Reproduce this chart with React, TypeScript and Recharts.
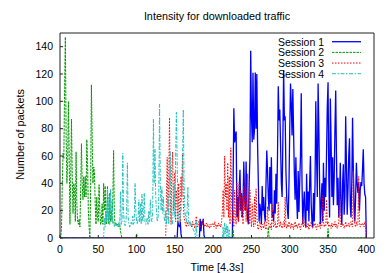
import React from 'react';
import { LineChart, Line, XAxis, YAxis } from 'recharts';

const xTicks = [0, 50, 100, 150, 200, 250, 300, 350, 400];
const yTicks = [0, 20, 40, 60, 80, 100, 120, 140];
const seriesNames = ['Session 1', 'Session 2', 'Session 3', 'Session 4'];

// Session 1 (blue): small bumps, then main activity from t=224
const session1EarlyStart = 152;
const session1Early = [
  0, 0, 12, 10, 8, 12, 3, 0, 0, 0,
  0, 0, 0, 0, 0, 0, 0, 0, 0, 0,
  0, 0, 0, 0, 0, 0, 0, 0, 0, 0,
  0, 14, 5, 12, 10, 14, 2, 0, 0,
];
const session1LateStart = 224;
const session1Late = [
  0, 0, 40, 95, 70, 75, 78, 15, 30, 12,
  35, 50, 20, 33, 15, 25, 56, 30, 20, 56,
  25, 14, 10, 40, 60, 137, 90, 70, 121, 72,
  80, 121, 80, 120, 68, 40, 12, 25, 19, 10,
  38, 20, 30, 17, 12, 40, 64, 49, 30, 20,
  52, 25, 59, 15, 20, 12, 35, 18, 47, 25,
  60, 111, 86, 94, 68, 40, 30, 72, 123, 86,
  89, 49, 30, 20, 14, 40, 80, 113, 98, 75,
  109, 77, 47, 28, 59, 30, 14, 49, 19, 41,
  60, 106, 40, 10, 25, 34, 14, 8, 47, 20,
  34, 12, 40, 60, 25, 12, 8, 33, 12, 40,
  100, 59, 30, 113, 80, 38, 10, 25, 40, 12,
  55, 20, 44, 30, 60, 96, 114, 44, 15, 102,
  70, 30, 59, 24, 44, 80, 108, 59, 24, 44,
  15, 30, 55, 20, 10, 40, 54, 17, 30, 89,
  54, 17, 35, 60, 73, 24, 15, 40, 88, 50,
  24, 12, 30, 55, 40, 33, 41, 20, 35, 41,
  38, 50, 65, 40, 32, 30, 0,
];

// Session 2 (green): active from t=0 to t=81
const session2Start = 0;
const session2Values = [
  0, 0, 8, 40, 62, 58, 110, 147, 75, 40,
  55, 100, 60, 10, 45, 87, 45, 18, 40, 36,
  12, 63, 25, 12, 10, 14, 8, 35, 69, 40,
  28, 45, 30, 45, 30, 72, 55, 20, 8, 0,
  35, 112, 75, 40, 52, 48, 25, 10, 30, 15,
  12, 39, 20, 10, 12, 25, 10, 40, 20, 38,
  12, 10, 38, 15, 10, 33, 12, 20, 12, 30,
  64, 15, 10, 11, 9, 10, 9, 8, 10, 5,
  2, 0,
];
const session2TailTimes = [99, 100, 101, 225, 226, 227, 271, 272, 273, 349, 350, 351, 400];
const session2TailValues = [0, 3, 0, 0, 6, 0, 0, 8, 0, 0, 7, 0, 0];

// Session 3 (red): active from t=137
const session3Start = 137;
const session3Values = [
  0, 0, 30, 59, 20, 45, 88, 30, 10, 50,
  63, 20, 40, 48, 12, 35, 25, 10, 40, 20,
  12, 45, 30, 62, 25, 15, 12, 10, 8, 12,
  10, 9, 11, 12, 10, 8, 12, 9, 10, 7,
  12, 16, 10, 8, 12, 10, 8, 9, 12, 10,
  13, 8, 10, 9, 11, 8, 10, 9, 7, 10,
  8, 9, 11, 10, 8, 12, 9, 7, 10, 8,
  11, 9, 10, 8, 12, 20, 35, 15, 60, 30,
  40, 20, 55, 15, 45, 10, 66, 30, 12, 20,
  8, 35, 15, 10, 40, 28, 12, 41, 20, 35,
  15, 30, 10, 38, 20, 45, 12, 30, 47, 20,
  10, 35, 15, 8, 25, 12, 8, 30, 10, 36,
  17, 8, 6, 10, 12, 8, 6, 10, 9, 7,
  12, 8, 6, 10, 23, 12, 9, 7, 10, 6,
  25, 12, 8, 10, 12, 7, 9, 8, 26, 10,
  8, 12, 9, 7, 10, 12, 8, 30, 9, 7,
  10, 8, 12, 9, 7, 11, 8, 10, 6, 9,
  12, 8, 10, 7, 9, 11, 8, 6, 10, 9,
  15, 8, 10, 12, 7, 9, 8, 11, 6, 10,
  9, 12, 8, 7, 10, 9, 11, 8, 6, 10,
  9, 8, 12, 7, 10, 9, 31, 12, 8, 10,
  9, 28, 10, 12, 8, 10, 9, 7, 11, 8,
  10, 9, 12, 8, 10, 7, 9, 12, 39, 10,
  8, 11, 9, 10, 7, 9, 12, 8, 10, 9,
  11, 8, 10, 12, 9, 8, 49, 15, 10, 8,
  12, 9, 10, 45, 12, 8, 10, 9, 11, 10,
  8, 12, 10, 0,
];

// Session 4 (cyan): active from t=57
const session4MainStart = 57;
const session4Main = [
  0, 15, 8, 20, 12, 35, 12, 30, 10, 36,
  15, 28, 10, 12, 8, 10, 9, 10, 8, 9,
  12, 8, 34, 10, 12, 62, 20, 10, 9, 12,
  20, 55, 15, 10, 8, 9, 12, 10, 16, 10,
  12, 40, 20, 12, 10, 14, 28, 12, 25, 10,
  32, 12, 15, 33, 12, 10, 12, 15, 10, 20,
  12, 28, 14, 12, 20, 87, 40, 65, 30, 20,
  12, 15, 30, 98, 40, 20, 37, 18, 30, 15,
  12, 20, 10, 15, 30, 10, 45, 63, 20, 12,
  10, 25, 40, 15, 60, 92, 55, 20, 12, 10,
  15, 20, 35, 58, 94, 40, 20, 15, 12, 20,
  37, 12, 10, 12, 9, 10, 8, 6, 5, 4,
  0, 12, 0,
];
const session4LateStart = 212;
const session4Late = [0, 8, 0, 11, 3, 10, 0, 9, 0, 6, 0];

const toPoints = (start: number, values: number[]) =>
  values.map((v, i) => ({ t: start + i, v }));

const session1Data = [{ t: 0, v: 0 }, ...toPoints(session1EarlyStart, session1Early), ...toPoints(session1LateStart, session1Late)];
const session2Data = [
  ...toPoints(session2Start, session2Values),
  ...session2TailTimes.map((t, i) => ({ t, v: session2TailValues[i] })),
];
const session3Data = [{ t: 0, v: 0 }, ...toPoints(session3Start, session3Values)];
const session4Data = [{ t: 0, v: 0 }, ...toPoints(session4MainStart, session4Main), ...toPoints(session4LateStart, session4Late)];

const FONT = "'Liberation Sans', Arial, Helvetica, sans-serif";
const colors = ['#0000ff', '#009a00', '#ff0000', '#20c0c0'];
const dashes = [undefined, '2.5 1', '1.5 1.5', '4 1.5 1.5 1.5'];
const widths = [1.3, 1, 1, 1];

export default function App() {
  const tickStyle = { fill: '#000', fontSize: 10.5, fontFamily: FONT };
  const datasets = [session1Data, session2Data, session3Data, session4Data];
  return (
    <div style={{ position: 'absolute', left: 0, top: 0, width: 390, height: 273, background: '#fff' }}>
      <LineChart width={390} height={273} margin={{ top: 3, right: 6, bottom: 15, left: 0 }}>
        <XAxis
          dataKey="t"
          type="number"
          domain={[0, 410]}
          ticks={xTicks}
          allowDataOverflow
          height={20}
          tickSize={-3}
          tickMargin={11}
          tick={tickStyle}
          stroke="#222"
          tickLine={{ stroke: '#222' }}
          axisLine={{ stroke: '#222' }}
        />
        <XAxis
          xAxisId="top"
          orientation="top"
          dataKey="t"
          type="number"
          domain={[0, 410]}
          ticks={xTicks}
          allowDataOverflow
          height={30}
          tickSize={-3}
          tick={false}
          stroke="#222"
        />
        <YAxis
          type="number"
          domain={[0, 150]}
          ticks={yTicks}
          allowDataOverflow
          width={60}
          tickSize={-3}
          tickMargin={10}
          tick={tickStyle}
          stroke="#222"
        />
        <YAxis
          yAxisId="right"
          orientation="right"
          type="number"
          domain={[0, 150]}
          ticks={yTicks}
          allowDataOverflow
          width={10}
          tickSize={-3}
          tick={false}
          stroke="#222"
        />
        {datasets.map((d, i) => (
          <Line
            key={seriesNames[i]}
            data={d}
            dataKey="v"
            name={seriesNames[i]}
            type="linear"
            stroke={colors[i]}
            strokeWidth={widths[i]}
            strokeDasharray={dashes[i]}
            dot={false}
            activeDot={false}
            isAnimationActive={false}
          />
        ))}
      </LineChart>
      <svg
        width={390}
        height={273}
        style={{ position: 'absolute', left: 0, top: 0, pointerEvents: 'none' }}
        fontFamily={FONT}
      >
        <text x={217} y={20} textAnchor="middle" fontSize={10.8} fill="#000">
          Intensity for downloaded traffic
        </text>
        <text x={217} y={271} textAnchor="middle" fontSize={10.8} fill="#000">
          Time [4.3s]
        </text>
        <text
          x={0}
          y={0}
          transform="translate(24,134.5) rotate(-90)"
          textAnchor="middle"
          fontSize={10.8}
          fill="#000"
        >
          Number of packets
        </text>
        {seriesNames.map((name, i) => {
          const cy = 41.7 + i * 10.67;
          return (
            <g key={name}>
              <text x={324} y={cy + 3.8} textAnchor="end" fontSize={10.5} fill="#000">
                {name}
              </text>
              <line
                x1={332}
                x2={361}
                y1={cy}
                y2={cy}
                stroke={colors[i]}
                strokeWidth={widths[i]}
                strokeDasharray={dashes[i]}
              />
            </g>
          );
        })}
      </svg>
    </div>
  );
}
